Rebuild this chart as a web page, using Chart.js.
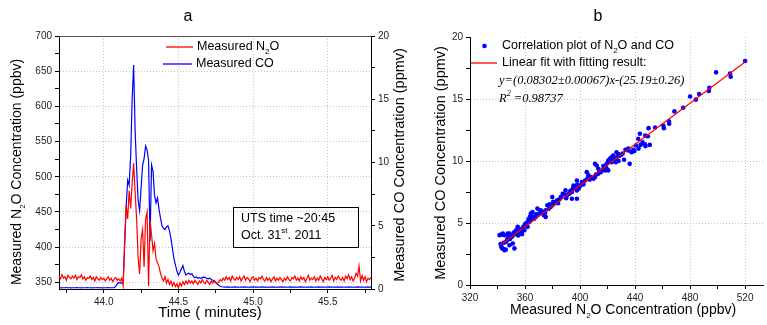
<!DOCTYPE html>
<html>
<head>
<meta charset="utf-8">
<script src="https://cdn.jsdelivr.net/npm/chart.js@4/dist/chart.umd.min.js"></script>
<style>
  html, body { margin: 0; padding: 0; background: #fff; }
  #wrap { position: relative; width: 767px; height: 325px; }
  #wrap canvas { position: absolute; left: 0; top: 0; }
</style>
</head>
<body>
<div id="wrap">
  <canvas id="chartA" width="767" height="325"></canvas>
  <canvas id="chartB" width="767" height="325"></canvas>
</div>
<script>
// ---- panel a: time series (sampled every 0.01 min from 43.70) ----
const T_START = 43.70;
const T_STEP = 0.01;

const n2oSeries = [
  359, 355, 361, 356, 358, 353, 360, 357, 355, 359,
  356, 360, 354, 358, 357, 361, 355, 358, 353, 357,
  356, 359, 354, 357, 352, 358, 355, 353, 357, 354,
  356, 352, 355, 358, 353, 356, 351, 355, 357, 353,
  355, 352, 356, 345, 410, 460, 440, 480, 455, 490,
  519, 478, 440, 385, 362, 412, 425, 372, 440, 450,
  345, 438, 418, 395, 405, 383, 378, 372, 363, 356,
  352, 358, 349, 354, 347, 352, 345, 350, 344, 348,
  342, 349, 345, 351, 347, 352, 348, 353, 349, 352,
  348, 353, 350, 347, 352, 349, 354, 350, 348, 353,
  350, 347, 352, 349, 353, 350, 348, 351, 354, 352,
  356, 353, 358, 354, 357, 352, 359, 355, 353, 357,
  354, 358, 352, 356, 359, 353, 357, 355, 351, 356,
  358, 353, 356, 352, 357, 355, 359, 354, 352, 357,
  353, 356, 351, 355, 358, 352, 356, 353, 357, 354,
  351, 356, 353, 358, 354, 352, 357, 355, 359, 353,
  356, 352, 358, 354, 357, 351, 355, 360, 353, 356,
  354, 358, 352, 356, 353, 359, 355, 351, 357, 354,
  358, 353, 356, 360, 352, 357, 354, 359, 355, 353,
  357, 352, 359, 355, 361, 354, 358, 352, 356, 363,
  359, 373, 352, 360, 353, 358, 351, 356, 354, 357
];

const coSeries = [
  0.10, 0.10, 0.09, 0.10, 0.10, 0.11, 0.10, 0.10, 0.09, 0.10,
  0.10, 0.10, 0.11, 0.10, 0.10, 0.09, 0.10, 0.10, 0.10, 0.11,
  0.10, 0.10, 0.09, 0.10, 0.10, 0.10, 0.11, 0.10, 0.10, 0.09,
  0.10, 0.10, 0.10, 0.11, 0.10, 0.10, 0.10, 0.10, 0.20, 0.40,
  0.50, 0.50, 0.45, 0.60, 3.50, 6.50, 8.60, 8.20, 10.5, 15.0,
  17.7, 12.5, 9.50, 7.00, 6.20, 8.00, 9.80, 10.3, 11.3, 11.0,
  10.2, 3.80, 9.80, 9.30, 7.40, 6.80, 7.20, 6.30, 5.60, 5.00,
  4.80, 4.70, 4.90, 5.00, 4.60, 4.00, 3.20, 2.40, 1.90, 1.40,
  1.10, 1.30, 1.60, 1.85, 1.40, 1.10, 1.20, 1.25, 1.15, 1.20,
  1.00, 0.90, 0.95, 0.85, 0.90, 0.85, 0.90, 0.95, 0.90, 0.85,
  0.80, 0.85, 0.75, 0.70, 0.60, 0.50, 0.40, 0.30, 0.22, 0.18,
  0.16, 0.15, 0.15, 0.16, 0.15, 0.14, 0.15, 0.15, 0.16, 0.15,
  0.15, 0.14, 0.15, 0.15, 0.16, 0.15, 0.15, 0.14, 0.15, 0.15,
  0.16, 0.15, 0.15, 0.15, 0.14, 0.15, 0.16, 0.15, 0.15, 0.15,
  0.14, 0.15, 0.15, 0.16, 0.15, 0.15, 0.14, 0.15, 0.15, 0.16,
  0.15, 0.15, 0.15, 0.14, 0.15, 0.16, 0.15, 0.15, 0.15, 0.14,
  0.15, 0.15, 0.16, 0.15, 0.15, 0.14, 0.15, 0.15, 0.15, 0.16,
  0.15, 0.14, 0.15, 0.15, 0.16, 0.15, 0.15, 0.15, 0.14, 0.15,
  0.15, 0.16, 0.15, 0.15, 0.14, 0.15, 0.15, 0.16, 0.15, 0.15,
  0.15, 0.14, 0.15, 0.15, 0.16, 0.15, 0.15, 0.14, 0.15, 0.15,
  0.16, 0.15, 0.15, 0.15, 0.14, 0.15, 0.15, 0.16, 0.15, 0.15
];

const timeTicks = [43.75, 44.0, 44.25, 44.5, 44.75, 45.0, 45.25, 45.5, 45.75];
const timeLabels = [44.0, 44.5, 45.0, 45.5];
const n2oTicks = [350, 375, 400, 425, 450, 475, 500, 525, 550, 575, 600, 625, 650, 675, 700];
const n2oLabels = [350, 400, 450, 500, 550, 600, 650, 700];
const coTicks = [0, 2.5, 5, 7.5, 10, 12.5, 15, 17.5, 20];
const coLabels = [0, 5, 10, 15, 20];

// ---- panel b: correlation scatter + linear fit ----
const corrN2O = [
  520, 509, 509.5, 498.9, 494, 493.6, 486.6, 484.2, 480, 475,
  468.6, 464.6, 464.8, 460.5, 461, 454.6, 449.8, 449.3, 447.4, 450.7,
  447.6, 447.2, 443.5, 442.3, 440.6, 438.7, 437.5, 435.1, 436.1, 432,
  435.1, 427.7, 426.5, 425.3, 426.5, 424.1, 422.9, 421.7, 420.5, 419.3,
  418.1, 420.5, 413.3, 412.1, 410.9, 413.3, 410.9, 409.7, 406.1, 404.9,
  403.7, 401.3, 400.1, 398.9, 397.7, 397.7, 396.5, 395.3, 394.1, 391.8,
  390.6, 389.4, 394.1, 397.7, 387.4, 383.4, 382.2, 381, 379.8, 379.8,
  378.6, 377.4, 376.2, 375, 375, 373.8, 371.4, 370.2, 369, 367.8,
  366.6, 365.4, 364.2, 364.2, 363, 361.9, 360.7, 359.5, 358.3, 357.1,
  355.9, 354.7, 353.5, 352.3, 351.1, 349.9, 348.7, 352.3, 347.5, 346.3,
  345.1, 343.9, 342.7, 343.5, 345.1, 341.5, 351.1, 348.7, 342.7, 347.5,
  351.8, 354.7, 357, 346, 344.3, 342.2,
  415, 416.5, 417, 423, 424.5, 428.5, 430, 428, 426, 407,
  408, 405.5, 402.5, 399.5, 398, 393, 392.5, 388.5, 386, 385,
  384, 380.5, 378, 372.5, 371, 368, 362.5, 360, 358.8, 356.5,
  355, 350.5, 349, 346.8, 344.5, 442.5, 444, 445.5, 439.5, 431,
  433, 411.5, 414, 419, 421, 396, 394.8, 389.9, 374.5, 366,
  363.5, 361, 357.8, 353, 348
];
const corrCO = [
  18.07, 17.05, 16.8, 17.15, 15.9, 15.65, 15.4, 14.95, 15.2, 14.3,
  14.0, 13.2, 13.0, 12.85, 12.65, 12.7, 12.65, 12.0, 12.05, 11.3,
  11.2, 11.35, 12.2, 11.8, 11.25, 10.9, 10.7, 10.85, 9.77, 10.1,
  11.0, 10.57, 10.3, 10.04, 10.7, 10.44, 10.3, 10.17, 10.04, 9.77,
  9.24, 9.24, 9.37, 9.64, 9.77, 8.97, 8.7, 8.57, 8.84, 9.1,
  8.43, 8.3, 8.03, 7.76, 7.63, 8.43, 7.76, 8.03, 7.5, 7.36,
  7.23, 7.63, 6.96, 6.96, 7.36, 6.83, 6.69, 6.56, 6.43, 7.1,
  6.3, 6.16, 6.43, 6.02, 5.49, 5.62, 6.02, 5.76, 6.16, 5.49,
  5.35, 5.89, 5.76, 5.22, 5.09, 4.69, 4.82, 4.42, 4.55, 4.28,
  4.15, 4.69, 4.42, 4.28, 4.02, 3.88, 4.15, 2.95, 3.75, 3.48,
  4.02, 4.15, 3.08, 2.95, 2.81, 4.02, 3.35, 3.21, 4.06, 4.14,
  4.19, 4.6, 4.5, 2.85, 2.9, 3.3,
  9.1, 9.3, 9.6, 9.9, 10.2, 10.4, 10.5, 10.0, 9.9, 8.5,
  8.7, 8.6, 8.1, 7.9, 8.1, 7.6, 7.4, 7.3, 7.1, 6.9,
  6.6, 6.7, 6.5, 5.9, 5.8, 5.7, 5.3, 4.9, 4.7, 4.35,
  4.0, 3.9, 3.7, 3.6, 3.4, 11.0, 11.3, 11.5, 10.8, 10.6,
  10.9, 8.9, 9.2, 9.5, 9.9, 7.9, 7.8, 7.0, 5.8, 5.5,
  5.5, 5.0, 4.1, 4.1, 4.0
];
const fitN2O = [342, 520];
const fitCO = [3.20, 17.98];

const n2oAxisTicks = [320, 340, 360, 380, 400, 420, 440, 460, 480, 500, 520];
const n2oAxisLabels = [320, 360, 400, 440, 480, 520];
const coAxisTicksB = [0, 2.5, 5, 7.5, 10, 12.5, 15, 17.5, 20];
const coAxisLabelsB = [0, 5, 10, 15, 20];

const SANS = "'Liberation Sans', Arial, sans-serif";
const SERIF = "'Liberation Serif', 'Times New Roman', serif";
const GRID = '#c4c4c4';

function has(list, v) {
  return list.some(l => Math.abs(l - v) < 1e-6);
}

// text with sub/superscript pieces: parts = [[text, 'sub'|'sup'|undefined], ...]
function drawRich(ctx, parts, x, y, size, align, rot, family, style) {
  ctx.save();
  ctx.translate(x, y);
  if (rot) ctx.rotate(rot);
  ctx.fillStyle = '#000';
  ctx.textBaseline = 'middle';
  ctx.textAlign = 'left';
  const fontOf = p => `${style || ''} ${p[1] ? Math.round(size * 0.6) : size}px ${family || SANS}`;
  const widths = parts.map(p => { ctx.font = fontOf(p); return ctx.measureText(p[0]).width; });
  const total = widths.reduce((a, b) => a + b, 0);
  let cx = align === 'center' ? -total / 2 : 0;
  parts.forEach((p, i) => {
    ctx.font = fontOf(p);
    const dy = p[1] === 'sub' ? size * 0.38 : p[1] === 'sup' ? -size * 0.38 : 0;
    ctx.fillText(p[0], cx, dy);
    cx += widths[i];
  });
  ctx.restore();
}

function axisTicks(list, labels, fmt) {
  return {
    afterBuildTicks: s => { s.ticks = list.map(v => ({ value: v })); },
    ticks: {
      autoSkip: false, maxRotation: 0, padding: 3, color: '#222',
      font: { family: SANS, size: 10 },
      callback: v => has(labels, v) ? fmt(v) : ''
    }
  };
}

function gridOpts(labels, skip) {
  return {
    color: c => (c.tick && has(labels, c.tick.value) && !has(skip || [], c.tick.value)) ? GRID : 'rgba(0,0,0,0)',
    tickColor: '#000',
    tickLength: 4,
    lineWidth: 1
  };
}

// ---------- chart a ----------
const timePoints = n2oSeries.map((v, i) => T_START + i * T_STEP);

const panelAText = {
  id: 'panelAText',
  afterDraw(chart) {
    const ctx = chart.ctx;
    const a = chart.chartArea;
    ctx.save();
    ctx.strokeStyle = '#555';
    ctx.lineWidth = 1;
    ctx.beginPath();
    ctx.moveTo(a.left, a.top + 0.5);
    ctx.lineTo(a.right, a.top + 0.5);
    ctx.stroke();

    // legend
    ctx.lineWidth = 1.3;
    ctx.strokeStyle = '#ff0000';
    ctx.beginPath(); ctx.moveTo(166, 47); ctx.lineTo(193, 47); ctx.stroke();
    ctx.strokeStyle = '#0000ff';
    ctx.beginPath(); ctx.moveTo(163, 64); ctx.lineTo(192, 64); ctx.stroke();

    // annotation box
    ctx.lineWidth = 1;
    ctx.strokeStyle = '#000';
    ctx.strokeRect(233.5, 207.5, 125, 40);
    ctx.restore();

    drawRich(ctx, [['Measured N'], ['2', 'sub'], ['O']], 197, 47, 12.5, 'left');
    drawRich(ctx, [['Measured CO']], 196, 64, 12.5, 'left');
    drawRich(ctx, [['UTS time ~20:45']], 241, 219, 12.5, 'left');
    drawRich(ctx, [['Oct. 31'], ['st', 'sup'], ['. 2011']], 241, 236, 12.5, 'left');

    drawRich(ctx, [['a']], 188, 17, 16, 'center');
    drawRich(ctx, [['Time ( minutes)']], 210, 313, 15, 'center');
    drawRich(ctx, [['Measured N'], ['2', 'sub'], ['O Concentration (ppbv)']], 17, 172, 14, 'center', -Math.PI / 2);
    drawRich(ctx, [['Measured CO Concentration (ppmv)']], 400, 165, 14.5, 'center', -Math.PI / 2);
  }
};

new Chart(document.getElementById('chartA'), {
  type: 'line',
  data: {
    datasets: [
      {
        label: 'Measured N2O',
        data: timePoints.map((t, i) => ({ x: t, y: n2oSeries[i] })),
        yAxisID: 'y',
        borderColor: '#ff0000',
        borderWidth: 1.2,
        pointRadius: 0,
        tension: 0
      },
      {
        label: 'Measured CO',
        data: timePoints.map((t, i) => ({ x: t, y: coSeries[i] })),
        yAxisID: 'y1',
        borderColor: '#0000ff',
        borderWidth: 1.2,
        pointRadius: 0,
        tension: 0
      }
    ]
  },
  options: {
    responsive: false,
    animation: false,
    events: [],
    layout: { padding: { left: 0, top: 36, right: 357, bottom: 0 } },
    plugins: { legend: { display: false }, tooltip: { enabled: false } },
    scales: {
      x: {
        type: 'linear', min: 43.7, max: 45.79,
        ...axisTicks(timeTicks, timeLabels, v => v.toFixed(1)),
        grid: gridOpts(timeLabels),
        border: { color: '#000', dash: [1, 2] },
        afterFit: s => { s.height = 36; }
      },
      y: {
        type: 'linear', position: 'left', min: 340.6, max: 700,
        ...axisTicks(n2oTicks, n2oLabels, v => String(v)),
        grid: gridOpts(n2oLabels, [700]),
        border: { color: '#000', dash: [1, 2] },
        afterFit: s => { s.width = 59; }
      },
      y1: {
        type: 'linear', position: 'right', min: 0, max: 20,
        ...axisTicks(coTicks, coLabels, v => String(v)),
        grid: { drawOnChartArea: false, tickColor: '#000', tickLength: 4 },
        border: { color: '#000' },
        afterFit: s => { s.width = 39; }
      }
    }
  },
  plugins: [panelAText]
});

// ---------- chart b ----------
const panelBText = {
  id: 'panelBText',
  afterDraw(chart) {
    const ctx = chart.ctx;
    ctx.save();
    ctx.fillStyle = '#0000ff';
    ctx.beginPath(); ctx.arc(484.5, 46, 2.3, 0, Math.PI * 2); ctx.fill();
    ctx.strokeStyle = '#ff0000';
    ctx.lineWidth = 1.3;
    ctx.beginPath(); ctx.moveTo(471, 63); ctx.lineTo(497, 63); ctx.stroke();
    ctx.restore();

    drawRich(ctx, [['Correlation plot of N'], ['2', 'sub'], ['O and CO']], 502, 46, 12.5, 'left');
    drawRich(ctx, [['Linear fit with fitting result:']], 502, 63, 12.5, 'left');
    drawRich(ctx, [['y=(0.08302\u00b10.00067)x-(25.19\u00b10.26)']], 499, 81, 12.5, 'left', 0, SERIF, 'italic');
    drawRich(ctx, [['R'], ['2', 'sup'], [' =0.98737']], 499, 99, 12.5, 'left', 0, SERIF, 'italic');

    drawRich(ctx, [['b']], 598, 17, 16, 'center');
    drawRich(ctx, [['Measured N'], ['2', 'sub'], ['O Concentration (ppbv)']], 623, 310, 14, 'center');
    drawRich(ctx, [['Measured CO Concentration (ppmv)']], 441, 163, 14.5, 'center', -Math.PI / 2);
  }
};

new Chart(document.getElementById('chartB'), {
  type: 'scatter',
  data: {
    datasets: [
      {
        label: 'Linear fit with fitting result',
        type: 'line',
        data: fitN2O.map((x, i) => ({ x, y: fitCO[i] })),
        borderColor: '#ff0000',
        borderWidth: 1.2,
        pointRadius: 0,
        tension: 0
      },
      {
        label: 'Correlation plot of N2O and CO',
        data: corrN2O.map((x, i) => ({ x, y: corrCO[i] })),
        backgroundColor: '#0000ff',
        borderColor: '#0000ff',
        borderWidth: 0,
        pointRadius: 2.3
      }
    ]
  },
  options: {
    responsive: false,
    animation: false,
    events: [],
    layout: { padding: { left: 410, top: 37, right: 0, bottom: 0 } },
    plugins: { legend: { display: false }, tooltip: { enabled: false } },
    scales: {
      x: {
        type: 'linear', min: 320, max: 533,
        ...axisTicks(n2oAxisTicks, n2oAxisLabels, v => String(v)),
        grid: gridOpts(n2oAxisLabels, [320]),
        border: { color: '#000', dash: [1, 2] },
        afterFit: s => { s.height = 40; }
      },
      y: {
        type: 'linear', min: 0, max: 20,
        ...axisTicks(coAxisTicksB, coAxisLabelsB, v => String(v)),
        grid: gridOpts(coAxisLabelsB, [0, 20]),
        border: { color: '#000', dash: [1, 2] },
        afterFit: s => { s.width = 60; }
      }
    }
  },
  plugins: [panelBText]
});
</script>
</body>
</html>
